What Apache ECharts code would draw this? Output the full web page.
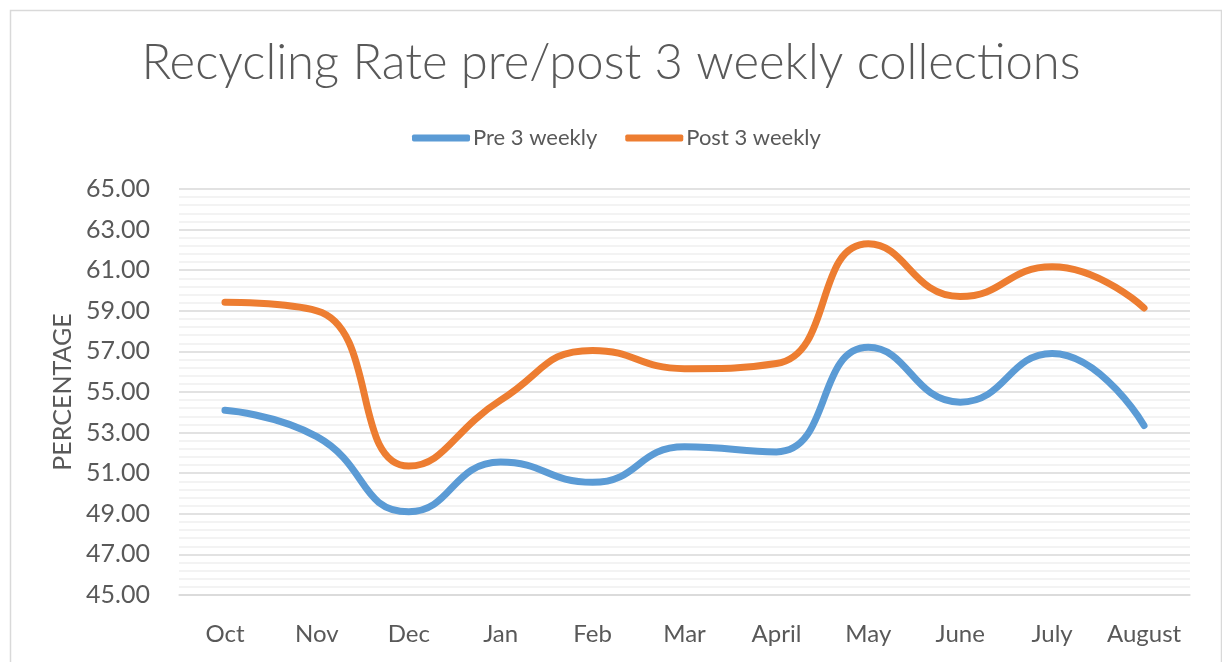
<!DOCTYPE html>
<html>
<head>
<meta charset="utf-8">
<script src="https://cdn.jsdelivr.net/npm/echarts@6/dist/echarts.min.js"></script>
<style>
html,body{margin:0;padding:0;background:#fff;}
#chart{width:1222px;height:662px;}
</style>
</head>
<body>
<div id="chart"></div>
<script>
const categories = ['Oct','Nov','Dec','Jan','Feb','Mar','April','May','June','July','August'];
const preValues  = [54.1, 52.8, 49.1, 51.55, 50.55, 52.3, 52.05, 57.2, 54.5, 56.9, 53.35];
const postValues = [59.42, 59.0, 51.35, 54.6, 57.05, 56.15, 56.4, 62.3, 59.7, 61.17, 59.14];
const seriesNames = ['Pre 3 weekly', 'Post 3 weekly'];
const titleText = 'Recycling Rate pre/post 3 weekly collections';
const yAxisName = 'PERCENTAGE';

const FONT = 'Lato, "Open Sans", sans-serif';
const chart = echarts.init(document.getElementById('chart'));
chart.setOption({
  backgroundColor: '#ffffff',
  animation: false,
  title: {
    text: titleText,
    left: 'center',
    top: 34,
    textStyle: {fontFamily: FONT, fontSize: 49, fontWeight: 300, color: '#595959'}
  },
  legend: {
    top: 122,
    left: 407,
    itemWidth: 58,
    itemHeight: 7,
    itemGap: 28,
    icon: 'roundRect',
    textStyle: {fontFamily: FONT, fontSize: 22, color: '#595959', padding: [0,0,0,-2]},
    data: seriesNames
  },
  grid: {left: 179, right: 32, top: 189, bottom: 67, containLabel: false},
  xAxis: {
    type: 'category',
    data: categories,
    boundaryGap: true,
    axisLine: {lineStyle: {color: '#D9D9D9', width: 1.5}},
    axisTick: {show: false},
    axisLabel: {fontFamily: FONT, fontSize: 24, color: '#595959', margin: 27, interval: 0}
  },
  yAxis: {
    type: 'value',
    min: 45, max: 65, interval: 2,
    name: yAxisName,
    nameLocation: 'middle',
    nameRotate: 90,
    nameGap: 104,
    nameTextStyle: {fontFamily: FONT, fontSize: 25, color: '#595959'},
    axisLine: {show: false},
    axisTick: {show: false},
    axisLabel: {fontFamily: FONT, fontSize: 25, color: '#595959', margin: 29,
      formatter: v => v.toFixed(2)},
    splitLine: {lineStyle: {color: '#D9D9D9', width: 1.5}},
    minorTick: {show: false, splitNumber: 5},
    minorSplitLine: {show: true, lineStyle: {color: '#F0F0F0', width: 1.5}}
  },
  series: [
    {name: seriesNames[0], type: 'line', data: preValues, smooth: 0.5, symbol: 'none',
     color: '#5B9BD5', lineStyle: {width: 7, cap: 'round', join: 'round', color: '#5B9BD5'}},
    {name: seriesNames[1], type: 'line', data: postValues, smooth: 0.5, symbol: 'none',
     color: '#ED7D31', lineStyle: {width: 7, cap: 'round', join: 'round', color: '#ED7D31'}}
  ],
  graphic: [{
    type: 'rect', left: 8, top: 8, silent: true,
    shape: {width: 1211, height: 670},
    style: {fill: 'none', stroke: '#D9D9D9', lineWidth: 1.5}
  }]
});
</script>
</body>
</html>
